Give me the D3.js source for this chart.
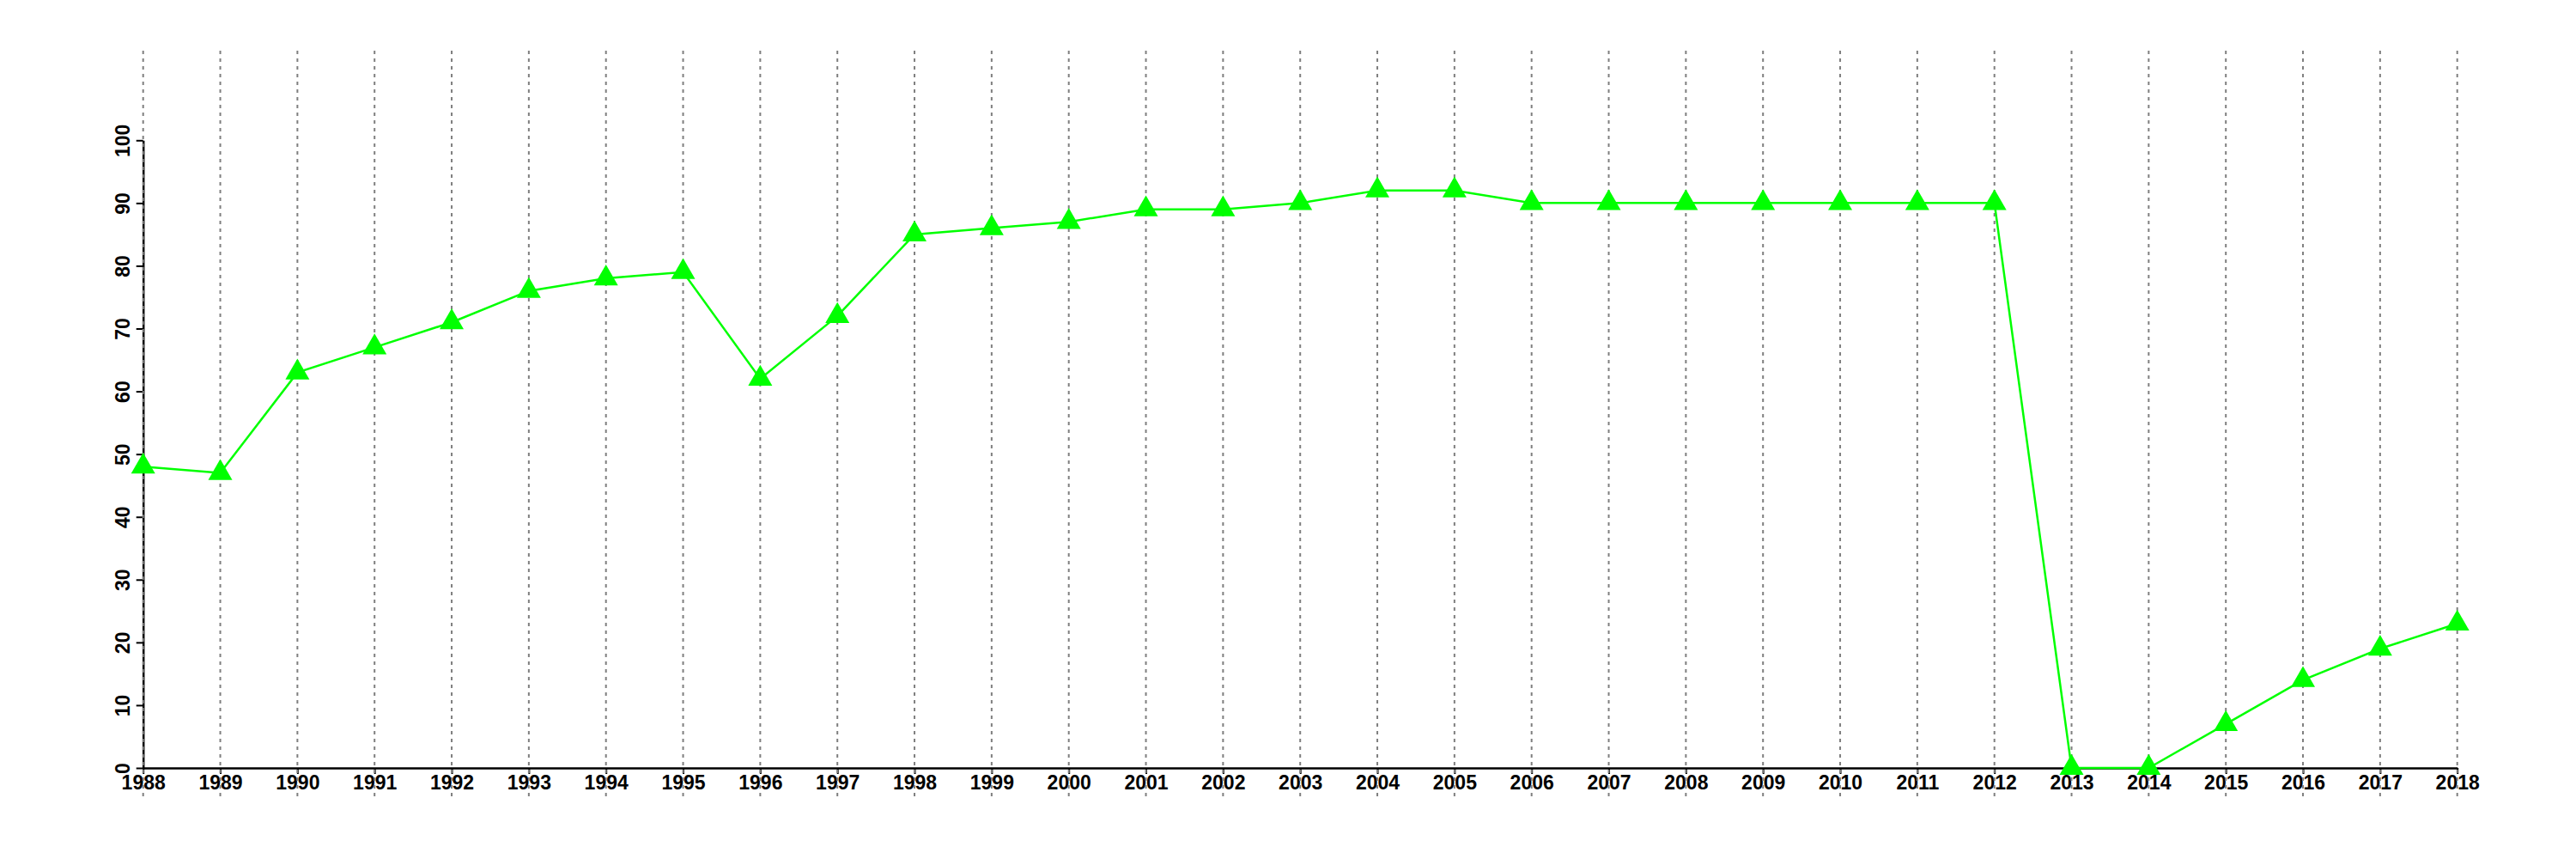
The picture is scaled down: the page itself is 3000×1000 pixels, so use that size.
<!DOCTYPE html>
<html><head><meta charset="utf-8">
<script src="https://cdn.jsdelivr.net/npm/d3@7"></script>
<style>body{margin:0;background:#fff}svg{display:block}</style>
</head><body>
<svg id="c" width="3000" height="1000"></svg>
<script>
const years = [1988,1989,1990,1991,1992,1993,1994,1995,1996,1997,1998,1999,2000,2001,2002,2003,2004,2005,2006,2007,2008,2009,2010,2011,2012,2013,2014,2015,2016,2017,2018];
const values = [48,47,63,67,71,76,78,79,62,72,85,86,87,89,89,90,92,92,90,90,90,90,90,90,90,0,0,7,14,19,23];
const yTicks = [0,10,20,30,40,50,60,70,80,90,100];

const svg = d3.select("#c");
const x = d3.scaleLinear().domain([1988,2018]).range([166.7,2861.7]);
const y = d3.scaleLinear().domain([0,100]).range([894,163.3]);
const gridTop = 59, gridBottom = 928;
const font = "Liberation Sans, Arial, Helvetica, sans-serif";

// x axis
const xa = svg.append("g").attr("transform",`translate(0,${y(0)})`)
  .call(d3.axisBottom(x).tickValues(years).tickFormat(d3.format("d")).tickSize(7).tickSizeOuter(0).tickPadding(2));
xa.select(".domain").attr("stroke","#000").attr("stroke-width",2.5);
xa.selectAll(".tick line").attr("stroke","#000").attr("stroke-width",2);
xa.selectAll("text").attr("font-family",font).attr("font-weight","bold").attr("font-size",23).attr("fill","#000");

// y axis
const ya = svg.append("g").attr("transform",`translate(${x(1988)},0)`)
  .call(d3.axisLeft(y).tickValues(yTicks).tickSize(8).tickSizeOuter(0).tickPadding(8));
ya.select(".domain").attr("stroke","#000").attr("stroke-width",2.5);
ya.selectAll(".tick line").attr("stroke","#000").attr("stroke-width",2);
ya.selectAll("text").attr("font-family",font).attr("font-weight","bold").attr("font-size",23).attr("fill","#000")
  .attr("transform",function(){const xx=+d3.select(this).attr("x");return `rotate(-90,${xx},0)`;})
  .attr("text-anchor","middle").attr("dy","0");

// grid lines
svg.append("g").selectAll("line").data(years).join("line")
  .attr("x1",d=>x(d)).attr("x2",d=>x(d))
  .attr("y1",gridTop).attr("y2",gridBottom)
  .attr("stroke","#7f7f7f").attr("stroke-width",2).attr("stroke-dasharray","4,5");

// line
const data = years.map((d,i)=>({year:d,value:values[i]}));
svg.append("path").datum(data)
  .attr("fill","none").attr("stroke","#00ff00").attr("stroke-width",2.5)
  .attr("d",d3.line().x(d=>x(d.year)).y(d=>y(d.value)));

// markers
svg.append("g").selectAll("path").data(data).join("path")
  .attr("transform",d=>`translate(${x(d.year)},${y(d.value)})`)
  .attr("d",d3.symbol().type(d3.symbolTriangle).size(340))
  .attr("fill","#00ff00");
</script>
</body></html>
